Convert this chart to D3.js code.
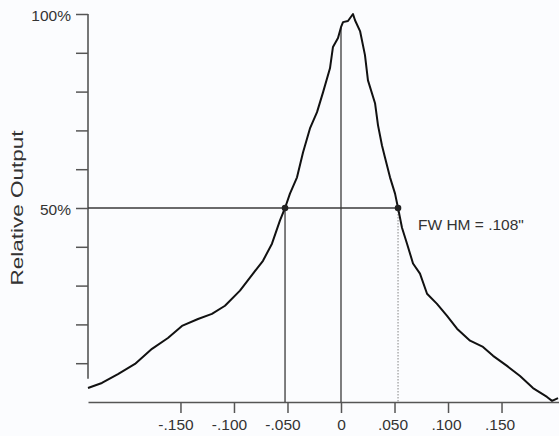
<!DOCTYPE html>
<html>
<head>
<meta charset="utf-8">
<script src="https://cdn.jsdelivr.net/npm/d3@7"></script>
<style>
  html, body { margin: 0; padding: 0; background: #fbfcfe; }
  svg { display: block; font-family: "Liberation Sans", Arial, sans-serif; }
</style>
</head>
<body>
<svg id="chart" width="559" height="436"></svg>
<script>
// Beam profile: position (inches) vs relative output (%)
const positions = [-0.2364, -0.2234, -0.2084, -0.1925, -0.1766, -0.1617, -0.1486, -0.1336, -0.1206, -0.1084,
  -0.0944, -0.0822, -0.0729, -0.0645, -0.0570, -0.0523, -0.0477, -0.0411, -0.0355, -0.0290,
  -0.0224, -0.0168, -0.0103, -0.0075, -0.0028, 0.0000, 0.0019, 0.0065, 0.0112, 0.0131,
  0.0178, 0.0224, 0.0252, 0.0318, 0.0346, 0.0383, 0.0411, 0.0458, 0.0505, 0.0533,
  0.0570, 0.0617, 0.0673, 0.0738, 0.0804, 0.0897, 0.0991, 0.1084, 0.1206, 0.1327,
  0.1421, 0.1551, 0.1673, 0.1794, 0.1925, 0.1972, 0.2028];
const output = [3.6, 4.9, 7.2, 9.8, 13.7, 16.5, 19.6, 21.4, 22.7, 24.8,
  28.7, 33.1, 36.4, 40.8, 46.8, 50.0, 53.7, 57.9, 64.3, 70.5,
  74.7, 79.8, 86.0, 91.5, 93.8, 96.6, 97.9, 98.2, 100.0, 98.4,
  95.6, 89.4, 82.9, 77.0, 71.3, 66.1, 63.0, 57.9, 53.7, 50.0,
  44.9, 40.8, 35.7, 33.1, 27.9, 25.3, 22.2, 18.9, 15.8, 14.2,
  11.9, 9.3, 6.7, 3.6, 1.3, 0.3, 1.0];
const xTickValues = [-0.150, -0.100, -0.050, 0, 0.050, 0.100, 0.150];
const xTickLabels = ["-.150", "-.100", "-.050", "0", ".050", ".100", ".150"];
const yTickValues = [10, 20, 30, 40, 50, 60, 70, 80, 90, 100];
const yTickLabels = {50: "50%", 100: "100%"};
const halfMax = 50;
const halfLeft = -0.0523, halfRight = 0.0533;
const fwhmLabel = "FW HM = .108\"";
const yTitle = "Relative Output";

const svg = d3.select("#chart");
const x = d3.scaleLinear().domain([-0.2364, 0.2037]).range([88, 559]);
const y = d3.scaleLinear().domain([0, 100]).range([402, 14]);
const axisColor = "#555";
const textColor = "#333";

// X axis
const xAxis = svg.append("g").attr("transform", `translate(0,${y(0)})`)
  .call(d3.axisBottom(x).tickValues(xTickValues).tickSize(11).tickSizeOuter(0)
    .tickFormat((d, i) => xTickLabels[i]));
xAxis.select(".domain").attr("stroke", axisColor).attr("stroke-width", 1.6);
xAxis.selectAll(".tick line").attr("stroke", axisColor).attr("stroke-width", 1.5);
xAxis.selectAll(".tick text").attr("fill", textColor).attr("font-size", 15.5)
  .attr("font-family", "Liberation Sans, Arial, sans-serif")
  .attr("y", 17).attr("dy", "0.71em")
  .attr("dx", (d) => d < 0 ? -5 : (d > 0 ? -2 : 0));

// Y axis
const yAxis = svg.append("g").attr("transform", `translate(${x.range()[0]},0)`)
  .call(d3.axisLeft(y).tickValues(yTickValues).tickSize(12).tickSizeOuter(0).tickPadding(5)
    .tickFormat(d => yTickLabels[d] || ""));
yAxis.select(".domain").remove();
yAxis.append("line").attr("x1", 0).attr("x2", 0).attr("y1", y(100)).attr("y2", y(6))
  .attr("stroke", axisColor).attr("stroke-width", 1.6);
yAxis.selectAll(".tick line").attr("stroke", axisColor).attr("stroke-width", 1.5);
yAxis.selectAll(".tick text").attr("fill", textColor).attr("font-size", 15.5)
  .attr("font-family", "Liberation Sans, Arial, sans-serif").attr("dy", "0.45em");

// Y title
svg.append("text")
  .attr("transform", `translate(23,${y(50)}) rotate(-90)`)
  .attr("text-anchor", "middle")
  .attr("font-size", 17)
  .attr("fill", textColor)
  .attr("textLength", 155).attr("lengthAdjust", "spacingAndGlyphs")
  .text(yTitle);

// Reference lines
const refColor = "#3a3a3a";
svg.append("line").attr("x1", x.range()[0]).attr("x2", x(halfRight))
  .attr("y1", y(halfMax)).attr("y2", y(halfMax))
  .attr("stroke", refColor).attr("stroke-width", 1.3);
svg.append("line").attr("x1", x(halfLeft)).attr("x2", x(halfLeft))
  .attr("y1", y(halfMax)).attr("y2", y(0))
  .attr("stroke", refColor).attr("stroke-width", 1.3);
svg.append("line").attr("x1", x(halfRight)).attr("x2", x(halfRight))
  .attr("y1", y(halfMax)).attr("y2", y(0))
  .attr("stroke", "#999").attr("stroke-width", 1.2).attr("stroke-dasharray", "1.5,1.5");
const i0 = positions.indexOf(0);
svg.append("line").attr("x1", x(0)).attr("x2", x(0))
  .attr("y1", y(output[i0])).attr("y2", y(0))
  .attr("stroke", refColor).attr("stroke-width", 1.3);

// Profile curve
const pts = positions.map((p, i) => [p, output[i]]);
svg.append("path").datum(pts)
  .attr("fill", "none").attr("stroke", "#111").attr("stroke-width", 2)
  .attr("stroke-linejoin", "round")
  .attr("d", d3.line().x(d => x(d[0])).y(d => y(d[1])).curve(d3.curveLinear));

// Half-max dots
svg.selectAll("circle.hm").data([halfLeft, halfRight]).enter().append("circle")
  .attr("cx", d => x(d)).attr("cy", y(halfMax)).attr("r", 3.3).attr("fill", "#222");

// FWHM label
svg.append("text").attr("x", 418).attr("y", 230)
  .attr("font-size", 15.5).attr("fill", textColor)
  .text(fwhmLabel);
</script>
</body>
</html>
